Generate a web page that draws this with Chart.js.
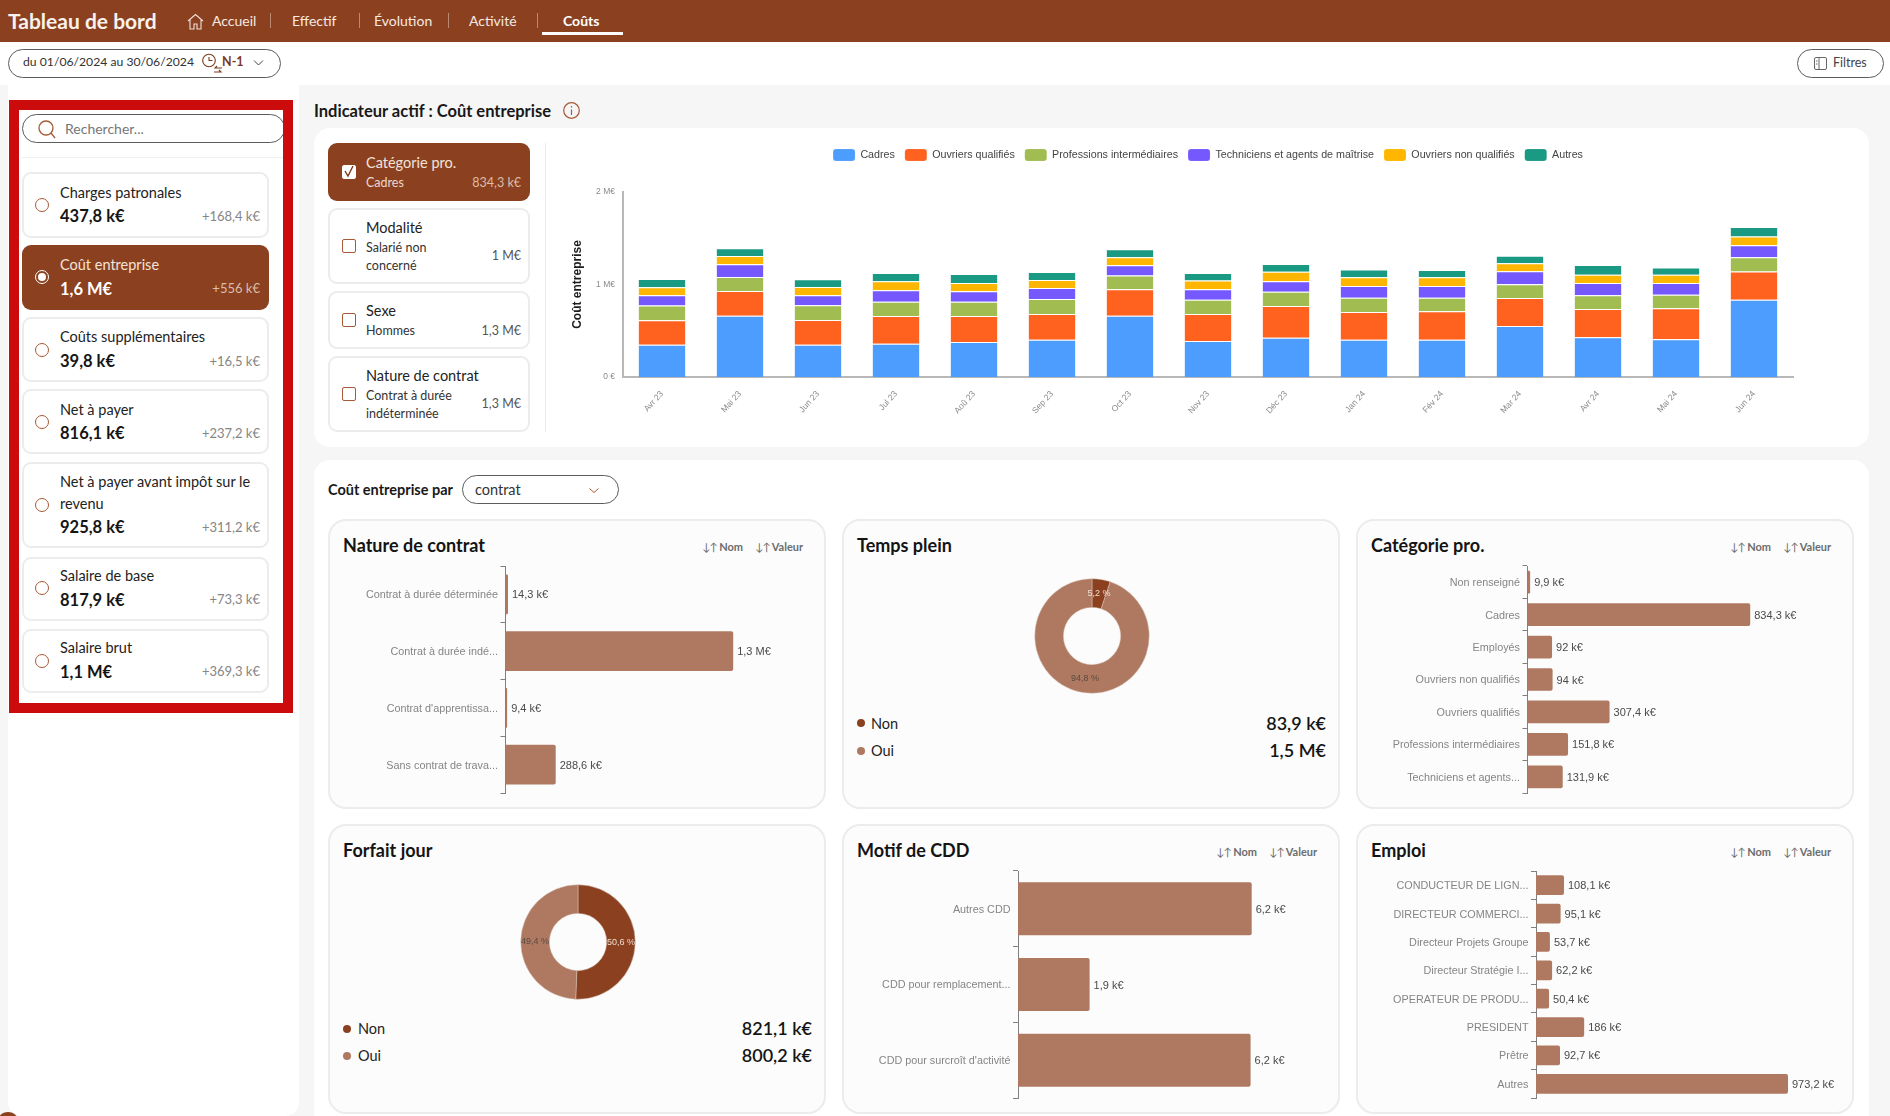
<!DOCTYPE html>
<html lang="fr">
<head>
<meta charset="utf-8">
<title>Tableau de bord</title>
<script src="https://cdn.jsdelivr.net/npm/chart.js@4"></script>
<style>
  * { box-sizing: border-box; }
  html, body { margin: 0; padding: 0; }
  body { width: 1890px; height: 1116px; position: relative; overflow: hidden; background: #f6f6f6; font-family: Lato, sans-serif; color: #1c1c1c; }
  .box { position: absolute; }
  .t { position: absolute; line-height: 1; white-space: nowrap; transform: translateY(-50%); }
  .r { transform: translate(-100%, -50%); }
  canvas { position: absolute; display: block; }
  svg { position: absolute; overflow: visible; fill: none; }
  .nav { color: #f6e9e2; font-size: 14px; }
  .sep { position: absolute; top: 13px; width: 1px; height: 15px; background: #b98a70; }
  .pill { position: absolute; border: 1px solid #5c5c5c; border-radius: 15px; background: #fff; }
  .card { position: absolute; left: 22px; width: 247px; border: 2px solid #ececec; border-radius: 9px; background: #fff; }
  .card.on, .side.on { background: #8b4120; border: 0; }
  .radio { position: absolute; left: 35px; width: 14px; height: 14px; border: 1.5px solid #a65a35; border-radius: 50%; background: #fff; }
  .name { font-size: 14.5px; color: #222; }
  .val { font-size: 16.5px; font-weight: 700; color: #151515; }
  .delta { font-size: 13px; color: #858585; }
  .side { position: absolute; left: 328px; width: 202px; border: 2px solid #ececec; border-radius: 9px; background: #fff; }
  .sub { font-size: 12.5px; color: #333; }
  .check { position: absolute; left: 342px; width: 14px; height: 14px; border: 1.5px solid #a65a35; border-radius: 2px; background: #fff; }
  .panel { position: absolute; background: #fff; border-radius: 16px; }
  .chartcard { position: absolute; width: 498px; height: 290px; background: #fcfcfc; border: 2px solid #ececec; border-radius: 18px; }
  .title { font-size: 18px; font-weight: 700; color: #141414; }
  .sort { font-size: 11px; font-weight: 700; color: #6c6c6c; }
  .sort span { font-weight: 400; letter-spacing: -1px; }
  .legname { font-size: 14.5px; color: #222; }
  .legval { font-size: 18px; font-weight: 600; color: #141414; }
  .dot { position: absolute; width: 8px; height: 8px; border-radius: 50%; }
</style>
</head>
<body>
<script>
// Main chart: monthly cost by professional category, in k€
const months = ['Avr 23', 'Mai 23', 'Jun 23', 'Jul 23', 'Aoû 23', 'Sep 23', 'Oct 23', 'Nov 23', 'Déc 23', 'Jan 24', 'Fév 24', 'Mar 24', 'Avr 24', 'Mai 24', 'Jun 24'];
const cadres = [350, 663, 350, 360, 378, 404, 663, 389, 425, 404, 404, 551, 429, 407, 834.3];
const ouvriersQualifies = [263, 267, 267, 299, 281, 277, 285, 292, 342, 299, 306, 303, 306, 335, 307.4];
const professionsInter = [159, 151, 159, 155, 155, 162, 148, 155, 155, 155, 148, 148, 148, 148, 151.8];
const techniciens = [112, 137, 108, 123, 112, 119, 112, 112, 112, 126, 126, 141, 133, 126, 131.9];
const ouvriersNonQualifies = [86, 90, 90, 97, 90, 86, 86, 94, 105, 94, 94, 86, 90, 90, 94];
const autres = [90, 83, 83, 90, 97, 86, 86, 83, 83, 83, 79, 83, 105, 79, 101.9];
const yTickLabels = ['0 €', '1 M€', '2 M€'];

const natureLabels = ['Contrat à durée déterminée', 'Contrat à durée indé...', "Contrat d'apprentissa...", 'Sans contrat de trava...'];
const natureValues = [14.3, 1309, 9.4, 288.6];

const categorieLabels = ['Non renseigné', 'Cadres', 'Employés', 'Ouvriers non qualifiés', 'Ouvriers qualifiés', 'Professions intermédiaires', 'Techniciens et agents...'];
const categorieValues = [9.9, 834.3, 92, 94, 307.4, 151.8, 131.9];

const motifLabels = ['Autres CDD', 'CDD pour remplacement...', "CDD pour surcroît d'activité"];
const motifValues = [6.2, 1.9, 6.17];

const emploiLabels = ['CONDUCTEUR DE LIGN...', 'DIRECTEUR COMMERCI...', 'Directeur Projets Groupe', 'Directeur Stratégie I...', 'OPERATEUR DE PRODU...', 'PRESIDENT', 'Prêtre', 'Autres'];
const emploiValues = [108.1, 95.1, 53.7, 62.2, 50.4, 186, 92.7, 973.2];

const ouiNon = ['Non', 'Oui'];
const tempsPleinValues = [83.9, 1537.4];
const forfaitValues = [821.1, 800.2];
</script>

<!-- header -->
<div class="box" style="left:0;top:0;width:1890px;height:42px;background:#8b4120"></div>
<div class="t" style="left:8px;top:20px;font-size:21px;font-weight:700;color:#f8f1ec">Tableau de bord</div>
<svg style="left:187px;top:13px" width="17" height="17" viewBox="0 0 17 17" stroke="#f0dfd6" stroke-width="1.1"><path d="M1 8 8.5 1.5 16 8M3 6.5V16h4v-5h3v5h4V6.5"/></svg>
<div class="t nav" style="left:212px;top:21px">Accueil</div><div class="sep" style="left:270px"></div>
<div class="t nav" style="left:292px;top:21px">Effectif</div><div class="sep" style="left:359px"></div>
<div class="t nav" style="left:374px;top:21px">Évolution</div><div class="sep" style="left:448px"></div>
<div class="t nav" style="left:469px;top:21px">Activité</div><div class="sep" style="left:537px"></div>
<div class="t nav" style="left:563px;top:21px;font-weight:700;color:#fff">Coûts</div>
<div class="box" style="left:542px;top:32px;width:81px;height:3px;background:#fff"></div>

<!-- date bar -->
<div class="box" style="left:0;top:42px;width:1890px;height:43px;background:#fff"></div>
<div class="pill" style="left:8px;top:49px;width:273px;height:29px"></div>
<div class="t" style="left:23px;top:62px;font-size:12.2px;color:#333">du 01/06/2024 au 30/06/2024</div>
<svg style="left:201px;top:54px" width="22" height="20" viewBox="0 0 22 20" stroke="#7b3a1c" stroke-width="1.1"><circle cx="8" cy="6.5" r="6.3"/><path d="M8 3v3.5h3.5M21 14h-7l2-2M13 18h7l-2-2"/></svg>
<div class="t" style="left:222px;top:62px;font-size:12.5px;font-weight:700;color:#7b3a1c">N-1</div>
<svg style="left:253px;top:60px" width="11" height="6" viewBox="0 0 11 6" stroke="#444"><path d="M1 .5 5.5 5 10 .5"/></svg>
<div class="pill" style="left:1797px;top:49px;width:87px;height:29px"></div>
<svg style="left:1814px;top:57px" width="13" height="13" viewBox="0 0 13 13" stroke="#666"><rect x=".5" y=".5" width="12" height="12" rx="1.5"/><path d="M5 .5v12M2 4h1.5M2 7h1.5"/></svg>
<div class="t" style="left:1833px;top:63px;font-size:12.5px;color:#444">Filtres</div>

<!-- left panel -->
<div class="box" style="left:8px;top:85px;width:291px;height:1031px;background:#fff;border-radius:0 0 14px 14px"></div>
<div class="box" style="left:22px;top:157px;width:261px;height:1px;background:#f0f0f0"></div>
<div class="pill" style="left:22px;top:114px;width:263px;height:29px"></div>
<svg style="left:38px;top:120px" width="18" height="19" viewBox="0 0 18 19" stroke="#a65a35" stroke-width="1.3"><circle cx="8" cy="8" r="7"/><path d="M13 13l4 5"/></svg>
<div class="t" style="left:65px;top:129px;font-size:14px;color:#777">Rechercher...</div>

<div class="card" style="top:172px;height:66px"></div><div class="radio" style="top:198px"></div>
<div class="t name" style="left:60px;top:193px">Charges patronales</div>
<div class="t val" style="left:60px;top:216px">437,8 k€</div><div class="t r delta" style="left:260px;top:216px">+168,4 k€</div>

<div class="card on" style="top:245px;height:65px"></div>
<div class="radio" style="top:270px;background:#8b4120;border-color:#fff"></div><div class="dot" style="left:38px;top:273px;background:#fff"></div>
<div class="t name" style="left:60px;top:265px;color:#f3e3da">Coût entreprise</div>
<div class="t val" style="left:60px;top:289px;color:#fff">1,6 M€</div><div class="t r delta" style="left:260px;top:288px;color:#dcbcaa">+556 k€</div>

<div class="card" style="top:317px;height:65px"></div><div class="radio" style="top:343px"></div>
<div class="t name" style="left:60px;top:337px">Coûts supplémentaires</div>
<div class="t val" style="left:60px;top:361px">39,8 k€</div><div class="t r delta" style="left:260px;top:361px">+16,5 k€</div>

<div class="card" style="top:389px;height:65px"></div><div class="radio" style="top:415px"></div>
<div class="t name" style="left:60px;top:410px">Net à payer</div>
<div class="t val" style="left:60px;top:433px">816,1 k€</div><div class="t r delta" style="left:260px;top:433px">+237,2 k€</div>

<div class="card" style="top:462px;height:86px"></div><div class="radio" style="top:498px"></div>
<div class="t name" style="left:60px;top:482px">Net à payer avant impôt sur le</div>
<div class="t name" style="left:60px;top:504px">revenu</div>
<div class="t val" style="left:60px;top:527px">925,8 k€</div><div class="t r delta" style="left:260px;top:527px">+311,2 k€</div>

<div class="card" style="top:557px;height:64px"></div><div class="radio" style="top:581px"></div>
<div class="t name" style="left:60px;top:576px">Salaire de base</div>
<div class="t val" style="left:60px;top:600px">817,9 k€</div><div class="t r delta" style="left:260px;top:599px">+73,3 k€</div>

<div class="card" style="top:629px;height:64px"></div><div class="radio" style="top:654px"></div>
<div class="t name" style="left:60px;top:648px">Salaire brut</div>
<div class="t val" style="left:60px;top:672px">1,1 M€</div><div class="t r delta" style="left:260px;top:671px">+369,3 k€</div>

<div class="box" style="left:9px;top:100px;width:284px;height:613px;border:solid #cc0c0c;border-width:10px"></div>
<div class="box" style="left:-3px;top:1112px;width:22px;height:22px;border-radius:50%;background:#8b4120"></div>

<!-- active indicator -->
<div class="t" style="left:314px;top:111px;font-size:16.5px;font-weight:700;color:#181818">Indicateur actif : Coût entreprise</div>
<svg style="left:563px;top:102px" width="17" height="17" viewBox="0 0 17 17" stroke="#a65a35" stroke-width="1.2"><circle cx="8.5" cy="8.5" r="7.8"/><path d="M8.5 7.5V13M8.5 4v1.5"/></svg>
<div class="panel" style="left:314px;top:128px;width:1555px;height:319px"></div>

<div class="side on" style="top:143px;height:58px"></div>
<div class="check" style="top:165px;border-color:#fff"></div>
<svg style="left:343px;top:165px" width="13" height="13" viewBox="0 0 13 13" stroke="#7b3a1c" stroke-width="1.4"><path d="M2 6l3 5 5-10"/></svg>
<div class="t name" style="left:366px;top:163px;color:#f3e3da">Catégorie pro.</div>
<div class="t sub" style="left:366px;top:183px;color:#ecd8cd">Cadres</div><div class="t r sub" style="left:521px;top:183px;color:#dcbcaa">834,3 k€</div>

<div class="side" style="top:208px;height:76px"></div><div class="check" style="top:239px"></div>
<div class="t name" style="left:366px;top:228px">Modalité</div>
<div class="t sub" style="left:366px;top:248px">Salarié non</div><div class="t sub" style="left:366px;top:266px">concerné</div><div class="t r sub" style="left:521px;top:256px;color:#555">1 M€</div>

<div class="side" style="top:291px;height:58px"></div><div class="check" style="top:313px"></div>
<div class="t name" style="left:366px;top:311px">Sexe</div>
<div class="t sub" style="left:366px;top:331px">Hommes</div><div class="t r sub" style="left:521px;top:331px;color:#555">1,3 M€</div>

<div class="side" style="top:356px;height:76px"></div><div class="check" style="top:387px"></div>
<div class="t name" style="left:366px;top:376px">Nature de contrat</div>
<div class="t sub" style="left:366px;top:396px">Contrat à durée</div><div class="t sub" style="left:366px;top:414px">indéterminée</div><div class="t r sub" style="left:521px;top:404px;color:#555">1,3 M€</div>

<div class="box" style="left:545px;top:143px;width:1px;height:289px;background:#ececec"></div>
<canvas id="mainChart" width="1324" height="301" style="left:546px;top:137px"></canvas>

<!-- breakdown panel -->
<div class="panel" style="left:314px;top:460px;width:1555px;height:680px"></div>
<div class="t" style="left:328px;top:490px;font-size:14.5px;font-weight:700;color:#181818">Coût entreprise par</div>
<div class="pill" style="left:462px;top:475px;width:157px;height:29px"></div>
<div class="t" style="left:475px;top:490px;font-size:14.5px;color:#333">contrat</div>
<svg style="left:589px;top:488px" width="10" height="5" viewBox="0 0 10 5" stroke="#a65a35"><path d="M.5 .5 5 4.5 9.5 .5"/></svg>

<div class="chartcard" style="left:328px;top:519px"></div>
<div class="t title" style="left:343px;top:545px">Nature de contrat</div>
<div class="t sort" style="left:702px;top:546px"><span>↓↑</span> Nom</div><div class="t sort" style="left:755px;top:546px"><span>↓↑</span> Valeur</div>
<canvas id="natureChart" width="485" height="229" style="left:335px;top:565px"></canvas>

<div class="chartcard" style="left:842px;top:519px"></div>
<div class="t title" style="left:857px;top:545px">Temps plein</div>
<canvas id="tempsPleinChart" width="130" height="130" style="left:1027px;top:571px"></canvas>
<div class="dot" style="left:857px;top:719px;background:#8b4120"></div><div class="t legname" style="left:871px;top:724px">Non</div><div class="t r legval" style="left:1326px;top:723px">83,9 k€</div>
<div class="dot" style="left:857px;top:747px;background:#ae7960"></div><div class="t legname" style="left:871px;top:751px">Oui</div><div class="t r legval" style="left:1326px;top:750px">1,5 M€</div>

<div class="chartcard" style="left:1356px;top:519px"></div>
<div class="t title" style="left:1371px;top:545px">Catégorie pro.</div>
<div class="t sort" style="left:1730px;top:546px"><span>↓↑</span> Nom</div><div class="t sort" style="left:1783px;top:546px"><span>↓↑</span> Valeur</div>
<canvas id="categorieChart" width="488" height="229" style="left:1362px;top:565px"></canvas>

<div class="chartcard" style="left:328px;top:824px"></div>
<div class="t title" style="left:343px;top:850px">Forfait jour</div>
<canvas id="forfaitChart" width="130" height="130" style="left:513px;top:877px"></canvas>
<div class="dot" style="left:343px;top:1025px;background:#8b4120"></div><div class="t legname" style="left:358px;top:1029px">Non</div><div class="t r legval" style="left:812px;top:1028px">821,1 k€</div>
<div class="dot" style="left:343px;top:1052px;background:#ae7960"></div><div class="t legname" style="left:358px;top:1056px">Oui</div><div class="t r legval" style="left:812px;top:1055px">800,2 k€</div>

<div class="chartcard" style="left:842px;top:824px"></div>
<div class="t title" style="left:857px;top:850px">Motif de CDD</div>
<div class="t sort" style="left:1216px;top:851px"><span>↓↑</span> Nom</div><div class="t sort" style="left:1269px;top:851px"><span>↓↑</span> Valeur</div>
<canvas id="motifChart" width="485" height="229" style="left:850px;top:870px"></canvas>

<div class="chartcard" style="left:1356px;top:824px"></div>
<div class="t title" style="left:1371px;top:850px">Emploi</div>
<div class="t sort" style="left:1730px;top:851px"><span>↓↑</span> Nom</div><div class="t sort" style="left:1783px;top:851px"><span>↓↑</span> Valeur</div>
<canvas id="emploiChart" width="493" height="229" style="left:1362px;top:870px"></canvas>

<script>
const DARK = '#8b4120';
const LIGHT = '#ae7960';
const CHART_FONT = '"Liberation Sans", Arial, sans-serif';

Chart.defaults.animation = false;
Chart.defaults.responsive = false;
Chart.defaults.devicePixelRatio = 1;
Chart.defaults.font.family = CHART_FONT;

function formatK(value) {
    if (value >= 1000) return (value / 1000).toFixed(1).replace('.', ',') + ' M€';
    const text = value.toFixed(1).replace('.0', '').replace('.', ',');
    return text + ' k€';
}

// Writes the value just after the end of each horizontal bar
const barValues = {
    id: 'barValues',
    afterDatasetsDraw(chart) {
        const ctx = chart.ctx;
        const dataset = chart.data.datasets[0];
        ctx.save();
        ctx.font = '11px ' + CHART_FONT;
        ctx.fillStyle = '#4a4a4a';
        ctx.textBaseline = 'middle';
        chart.getDatasetMeta(0).data.forEach((bar, i) => {
            ctx.fillText(formatK(dataset.data[i]), bar.x + 4, bar.y + 1);
        });
        ctx.restore();
    }
};

// Writes the share in the middle of each doughnut slice
const sliceShares = {
    id: 'sliceShares',
    afterDatasetsDraw(chart) {
        const ctx = chart.ctx;
        const values = chart.data.datasets[0].data;
        const total = values.reduce((sum, v) => sum + v, 0);
        ctx.save();
        ctx.font = '9px ' + CHART_FONT;
        ctx.textAlign = 'center';
        ctx.textBaseline = 'middle';
        chart.getDatasetMeta(0).data.forEach((arc, i) => {
            const pos = arc.tooltipPosition();
            ctx.fillStyle = i === 0 ? '#efdcd1' : '#5a4a42';
            ctx.fillText((values[i] / total * 100).toFixed(1).replace('.', ',') + ' %', pos.x, pos.y);
        });
        ctx.restore();
    }
};

function horizontalBars(id, labels, values, axisWidth, max) {
    new Chart(document.getElementById(id), {
        type: 'bar',
        plugins: [barValues],
        data: {
            labels: labels,
            datasets: [{
                data: values,
                backgroundColor: LIGHT,
                borderRadius: { topRight: 2, bottomRight: 2 },
                borderSkipped: false,
                categoryPercentage: 0.7,
                barPercentage: 1
            }]
        },
        options: {
            indexAxis: 'y',
            layout: { autoPadding: false, padding: { top: 1, bottom: 1 } },
            plugins: { legend: { display: false }, tooltip: { enabled: false } },
            scales: {
                x: { display: false, min: 0, max: max },
                y: {
                    afterFit: scale => { scale.width = axisWidth; scale.paddingTop = 0; scale.paddingBottom = 0; },
                    border: { color: '#808080', width: 1 },
                    grid: { drawOnChartArea: false, tickLength: 5, tickColor: '#808080' },
                    ticks: { autoSkip: false, color: '#858585', padding: 2.5, labelOffset: 1, font: { size: 10.8 } }
                }
            }
        }
    });
}

function doughnut(id, values) {
    new Chart(document.getElementById(id), {
        type: 'doughnut',
        plugins: [sliceShares],
        data: {
            labels: ouiNon,
            datasets: [{ data: values, backgroundColor: [DARK, LIGHT], borderWidth: 0.5, borderColor: '#d9c4b8' }]
        },
        options: {
            cutout: '50%',
            layout: { padding: 7.5 },
            plugins: { legend: { display: false }, tooltip: { enabled: false } }
        }
    });
}

function stackedSeries(label, data, color) {
    return {
        label: label,
        data: data,
        backgroundColor: color,
        borderColor: 'rgba(255, 255, 255, 0.45)',
        borderWidth: { top: 1 },
        categoryPercentage: 0.6,
        barPercentage: 1
    };
}

// Legend keeps a fixed height, so the plot starts where the reference does,
// and is centred over the whole canvas rather than the padded area
const legendFit = {
    id: 'legendFit',
    beforeInit(chart) {
        const fit = chart.legend.fit;
        chart.legend.fit = function() {
            fit.call(this);
            this.height = 55;
        };
    },
    afterLayout(chart) {
        chart.legend.right = chart.width;
        chart.legend.top = 2;
    }
};

new Chart(document.getElementById('mainChart'), {
    type: 'bar',
    plugins: [legendFit],
    data: {
        labels: months,
        datasets: [
            stackedSeries('Cadres', cadres, '#4d9dff'),
            stackedSeries('Ouvriers qualifiés', ouvriersQualifies, '#ff621f'),
            stackedSeries('Professions intermédiaires', professionsInter, '#a1bd52'),
            stackedSeries('Techniciens et agents de maîtrise', techniciens, '#7559ff'),
            stackedSeries('Ouvriers non qualifiés', ouvriersNonQualifies, '#ffb600'),
            stackedSeries('Autres', autres, '#1a9983')
        ]
    },
    options: {
        layout: { padding: { right: 77 } },
        plugins: {
            tooltip: { enabled: false },
            legend: {
                labels: {
                    boxWidth: 22,
                    boxHeight: 12,
                    padding: 10,
                    useBorderRadius: true,
                    borderRadius: 3,
                    color: '#444',
                    font: { size: 10.7 }
                }
            }
        },
        scales: {
            x: {
                stacked: true,
                afterFit: scale => { scale.height = 61; },
                border: { color: '#b8b8b8', width: 2 },
                grid: { display: false },
                ticks: { color: '#8a8a8a', font: { size: 8.5 }, minRotation: 48, maxRotation: 48, autoSkip: false, padding: 4 }
            },
            y: {
                stacked: true,
                min: 0,
                max: 2000,
                afterFit: scale => { scale.width = 77; },
                border: { color: '#b8b8b8', width: 2 },
                grid: { display: false },
                title: { display: true, text: 'Coût entreprise', color: '#1c1c1c', font: { size: 12, weight: 'bold' }, padding: { top: 24, bottom: 0 } },
                ticks: {
                    stepSize: 1000,
                    color: '#8a8a8a',
                    padding: 0,
                    font: { size: 8.5 },
                    callback: (value, index) => yTickLabels[index]
                }
            }
        }
    }
});

horizontalBars('natureChart', natureLabels, natureValues, 170.5, 1808);
horizontalBars('categorieChart', categorieLabels, categorieValues, 165.5, 1208);
horizontalBars('motifChart', motifLabels, motifValues, 168, 8.41);
horizontalBars('emploiChart', emploiLabels, emploiValues, 174, 1232);
doughnut('tempsPleinChart', tempsPleinValues);
doughnut('forfaitChart', forfaitValues);
</script>
</body>
</html>
